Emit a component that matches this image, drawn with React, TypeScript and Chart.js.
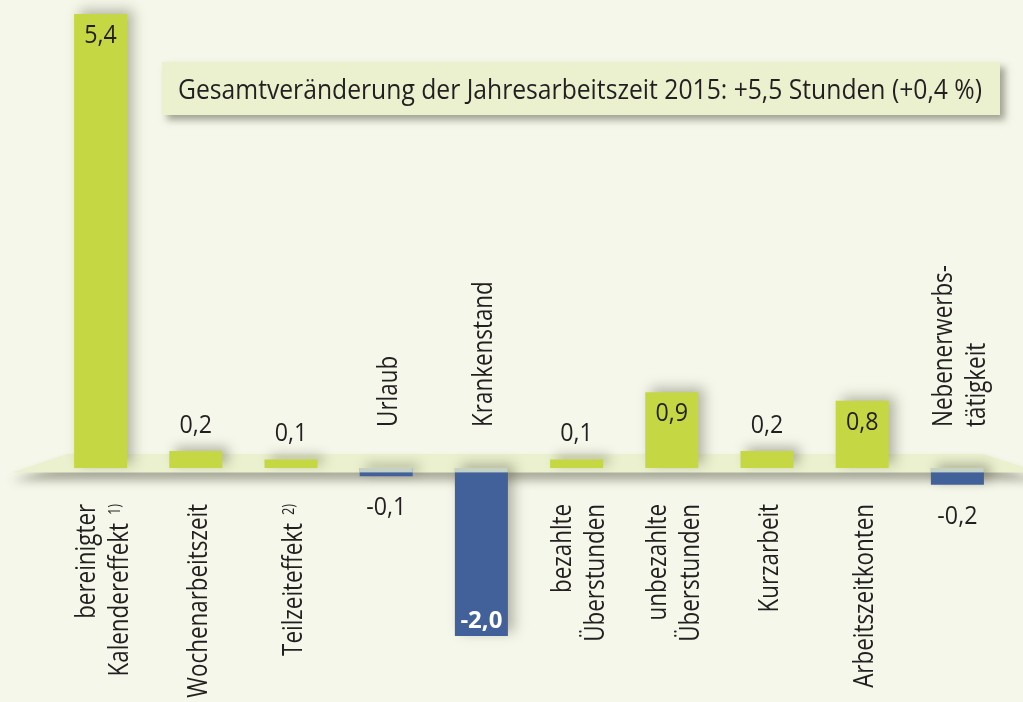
import React, { useEffect, useRef } from "react";
import { Chart, registerables } from "chart.js";

Chart.register(...registerables);

// ---- data ----
const categories: string[][] = [
  ["bereinigter", "Kalendereffekt"],
  ["Wochenarbeitszeit"],
  ["Teilzeiteffekt"],
  ["Urlaub"],
  ["Krankenstand"],
  ["bezahlte", "Überstunden"],
  ["unbezahlte", "Überstunden"],
  ["Kurzarbeit"],
  ["Arbeitszeitkonten"],
  ["Nebenerwerbs-", "tätigkeit"],
];
const footnotes: string[] = ["1)", "", "2)", "", "", "", "", "", "", ""];
const values: number[] = [5.4, 0.2, 0.1, -0.1, -2.0, 0.1, 0.9, 0.2, 0.8, -0.2];
const yMin = -2.0;
const yMax = 5.4;
const titleText =
  "Gesamtveränderung der Jahresarbeitszeit 2015: +5,5 Stunden (+0,4 %)";

// ---- styles ----
const BG = "#f5f7ea";
const GREEN = "#c5d843";
const BLUE = "#42619a";
const BAND = "#ebf1cf";
const TITLE_BG = "#ebf1cf";
const TEXT = "#231f20";
const FONT_FAMILY = '"Open Sans", "Noto Sans", sans-serif';
const COND = 0.8;

const fmt = (v: number) => v.toFixed(1).replace(".", ",");

const decorPlugin = {
  id: "decor",
  beforeDraw(chart: any) {
    const { ctx, width, height } = chart;
    ctx.save();
    ctx.fillStyle = BG;
    ctx.fillRect(0, 0, width, height);
    ctx.restore();
  },
  beforeDatasetsDraw(chart: any) {
    const ctx = chart.ctx;
    const zero = chart.scales.y.getPixelForValue(0);
    const top = zero - 14;
    const bot = zero + 4.5;
    ctx.save();
    ctx.shadowColor = "rgba(80,80,60,0.45)";
    ctx.shadowBlur = 10;
    ctx.shadowOffsetY = 8;
    ctx.fillStyle = BAND;
    ctx.beginPath();
    ctx.moveTo(12, bot);
    ctx.lineTo(67, top);
    ctx.lineTo(983, top);
    ctx.lineTo(1040, bot);
    ctx.closePath();
    ctx.fill();
    ctx.restore();
    // shadows for the bars
    ctx.save();
    ctx.shadowColor = "rgba(80,80,60,0.4)";
    ctx.shadowBlur = 12;
    ctx.shadowOffsetX = 6;
    ctx.shadowOffsetY = -4;
  },
  afterDatasetsDraw(chart: any) {
    const ctx = chart.ctx;
    ctx.restore();
    const zero = chart.scales.y.getPixelForValue(0);
    const meta = chart.getDatasetMeta(0);
    ctx.save();
    meta.data.forEach((el: any, i: number) => {
      if (values[i] < 0) {
        const { x, width } = el.getProps(["x", "width"], true);
        ctx.fillStyle = "rgba(235,241,207,0.78)";
        ctx.fillRect(x - width / 2, zero, width, 4.5);
      }
    });
    ctx.restore();
  },
  afterDraw(chart: any) {
    const ctx = chart.ctx;
    const xScale = chart.scales.x;
    const yScale = chart.scales.y;
    const zero = yScale.getPixelForValue(0);
    const meta = chart.getDatasetMeta(0);

    // value labels
    meta.data.forEach((el: any, i: number) => {
      const v = values[i];
      const { x, y } = el.getProps(["x", "y"], true);
      const inside = Math.abs(v) >= 0.5;
      let ty: number;
      let color = TEXT;
      let font = `25px ${FONT_FAMILY}`;
      let cond = 0.93;
      if (v >= 0) {
        ty = inside ? y + 29 : y - 18;
      } else if (inside) {
        ty = y - 8;
        color = "#ffffff";
        font = `bold 24px ${FONT_FAMILY}`;
        cond = 1;
      } else {
        ty = y + 39;
      }
      ctx.save();
      ctx.translate(x, ty);
      ctx.scale(cond, 1);
      ctx.font = font;
      ctx.fillStyle = color;
      ctx.textAlign = "center";
      ctx.textBaseline = "alphabetic";
      ctx.fillText(fmt(v), 0, 0);
      ctx.restore();
    });

    // category labels (rotated)
    categories.forEach((lines, i) => {
      const cx = xScale.getPixelForValue(i);
      const below = values[i] >= 0;
      const anchor = below ? zero + 36 : zero - 41;
      const n = lines.length;
      lines.forEach((line, k) => {
        const bx = cx + 11 + (k - (n - 1) / 2) * 33;
        const fn = k === n - 1 ? footnotes[i] : "";
        ctx.save();
        ctx.translate(bx, anchor);
        ctx.rotate(-Math.PI / 2);
        ctx.scale(COND, 1);
        ctx.fillStyle = TEXT;
        ctx.textBaseline = "alphabetic";
        let offset = 0;
        if (fn) {
          ctx.font = `16px ${FONT_FAMILY}`;
          ctx.textAlign = below ? "right" : "left";
          ctx.fillText(fn, 0, -8);
          offset = ctx.measureText(fn).width + 10;
        }
        ctx.font = `28px ${FONT_FAMILY}`;
        if (below) {
          ctx.textAlign = "right";
          ctx.fillText(line, -offset, 0);
        } else {
          ctx.textAlign = "left";
          ctx.fillText(line, 0, 0);
        }
        ctx.restore();
      });
    });

    // title box
    ctx.save();
    ctx.shadowColor = "rgba(80,80,60,0.5)";
    ctx.shadowBlur = 7;
    ctx.shadowOffsetX = 5;
    ctx.shadowOffsetY = 5;
    ctx.fillStyle = TITLE_BG;
    ctx.fillRect(162, 62, 838, 53);
    ctx.restore();
    ctx.save();
    ctx.font = `28px ${FONT_FAMILY}`;
    ctx.fillStyle = TEXT;
    ctx.textAlign = "left";
    ctx.textBaseline = "alphabetic";
    ctx.fillText(titleText, 178, 99, 804);
    ctx.restore();
  },
};

export default function App() {
  const canvasRef = useRef<HTMLCanvasElement | null>(null);

  useEffect(() => {
    if (!canvasRef.current) return;
    const chart = new Chart(canvasRef.current, {
      type: "bar",
      data: {
        labels: categories.map((c) => c.join(" ")),
        datasets: [
          {
            data: values,
            backgroundColor: values.map((v) => (v >= 0 ? GREEN : BLUE)),
            borderWidth: 0,
            barPercentage: 1,
            categoryPercentage: 0.557,
            clip: false as any,
          },
        ],
      },
      options: {
        animation: false,
        responsive: true,
        maintainAspectRatio: false,
        layout: { padding: { left: 53, right: 18, top: 14, bottom: 66 } },
        plugins: {
          legend: { display: false },
          tooltip: { enabled: false },
        },
        scales: {
          x: { display: false },
          y: { display: false, min: yMin, max: yMax },
        },
      },
      plugins: [decorPlugin],
    });
    return () => chart.destroy();
  }, []);

  return (
    <div
      style={{
        position: "absolute",
        left: 0,
        top: 0,
        width: 1023,
        height: 702,
        background: BG,
      }}
    >
      <canvas ref={canvasRef} />
    </div>
  );
}
